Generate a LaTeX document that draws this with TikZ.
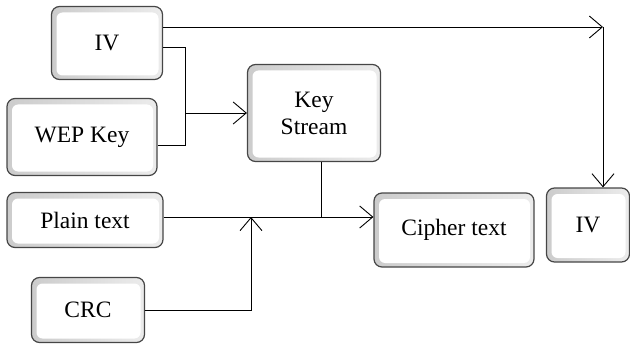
\documentclass[tikz,border=0pt]{standalone}
\usepackage{fontspec}
\setmainfont{Liberation Serif}
\usetikzlibrary{arrows.meta,calc}

\tikzset{
  blk/.style={draw=gray!55!black, line width=1.2pt, rounded corners=8pt,
    left color=gray!40, right color=gray!15, align=center,
    font=\fontsize{23.5}{27}\selectfont, inner sep=0pt,
    path picture={\fill[white, rounded corners=6pt]
      ([shift={(5pt,-6pt)}]path picture bounding box.north west) rectangle
      ([shift={(-4pt,4pt)}]path picture bounding box.south east);}},
  arr/.style={-{Straight Barb[length=13pt,width=22pt]}},
}

\begin{document}
\begin{tikzpicture}[x=1pt,y=-1pt,line width=0.9pt]
	\useasboundingbox (0,0) rectangle (630,345);
	% boxes
	\node[blk,minimum width=111pt,minimum height=73pt] (iv) at (107,43) {IV};
	\node[blk,minimum width=150pt,minimum height=77pt] (wep) at (82,137) {WEP Key};
	\node[blk,minimum width=133pt,minimum height=97pt] (keystream) at (314,113) {Key\\Stream};
	\node[blk,minimum width=156pt,minimum height=55pt] (plain) at (85,220) {Plain text};
	\node[blk,minimum width=113pt,minimum height=65pt] (crc) at (88,310) {CRC};
	\node[blk,minimum width=160pt,minimum height=74pt] (cipher) at (454,230) {Cipher text};
	\node[blk,minimum width=83pt,minimum height=74pt] (ivout) at (588,225) {IV};
	% junction points
	\coordinate (turn) at (603,27);
	\coordinate (jt) at (185,47);
	\coordinate (jb) at (185,145);
	\coordinate (jm) at (185,113);
	\coordinate (mix) at (321,217);
	\coordinate (up) at (251,217);
	% IV passed on in clear
	\draw[arr] (iv.east |- turn) -- (turn);
	\draw[arr] (turn) -- (turn |- ivout.north);
	% IV + key into the key stream
	\draw (iv.east |- jt) -- (jt) -- (jb) -- (wep.east |- jb);
	\draw[arr] (jm) -- (keystream.west);
	% plain text with CRC, xor key stream
	\draw[arr] (plain.east |- mix) -- (cipher.west |- mix);
	\draw (mix |- keystream.south) -- (mix);
	\draw[arr] (crc.east) -| (up);
\end{tikzpicture}
\end{document}
